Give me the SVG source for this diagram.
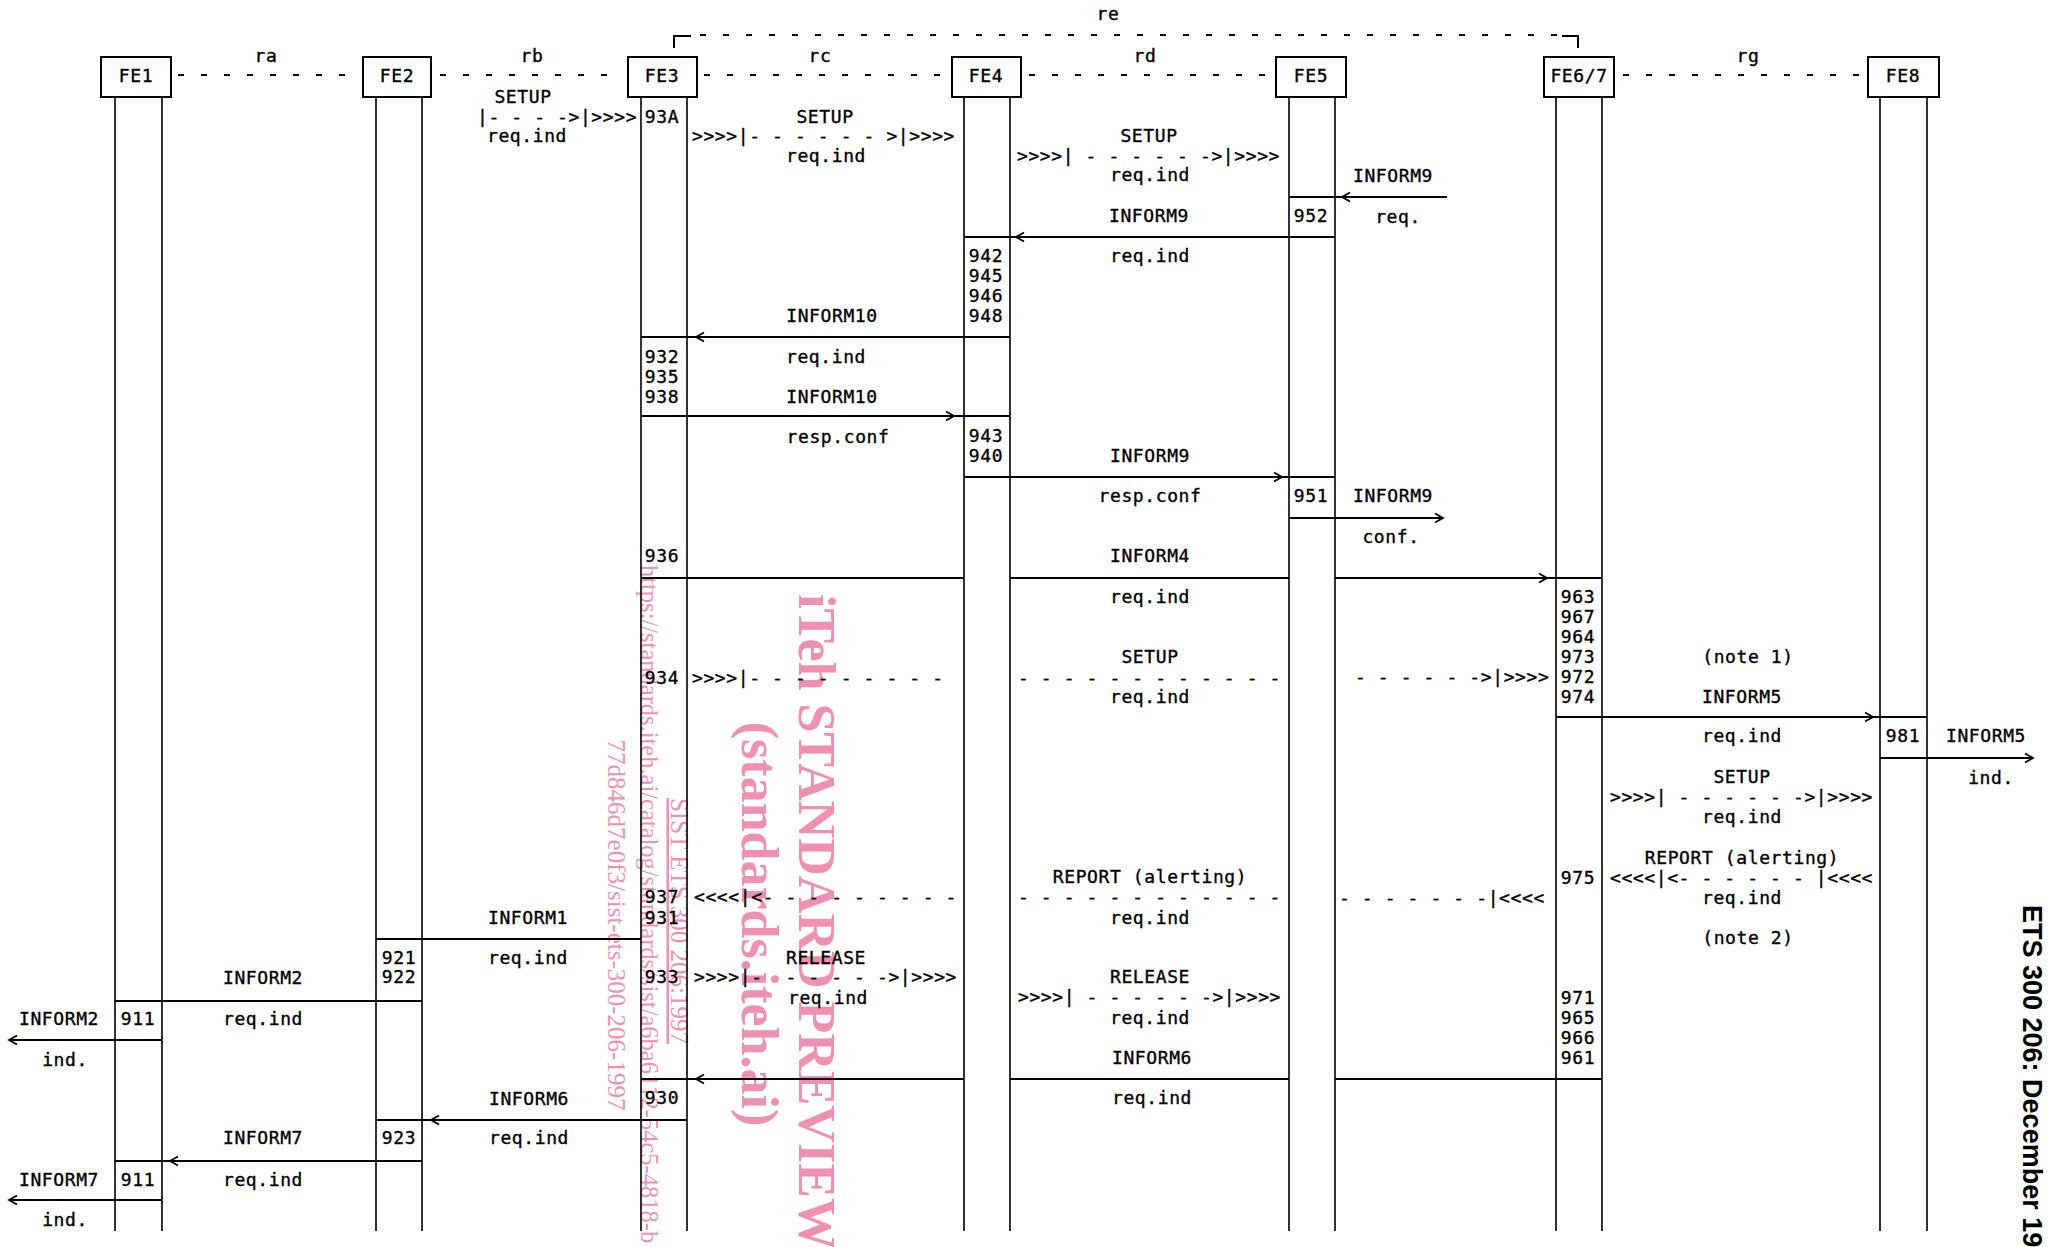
<svg xmlns="http://www.w3.org/2000/svg" width="2049" height="1247" viewBox="0 0 2049 1247">
<style>
.t{font-family:"DejaVu Sans Mono",monospace;font-size:18px;letter-spacing:0.6px;fill:#000;stroke:#000;stroke-width:0.35;text-anchor:middle;white-space:pre}
.s{text-anchor:start}
.box{fill:#fff;stroke:#000;stroke-width:2}
.ll{stroke:#000;stroke-width:1.6;fill:none}
.msg{stroke:#000;stroke-width:2;fill:none}
.dash{stroke:#000;stroke-width:2;fill:none;stroke-dasharray:6 17}
.ah{stroke:#000;stroke-width:1.8;fill:none}
.wm{font-family:"Liberation Serif",serif;fill:#ef8fb1;text-anchor:middle}
.wb{font-weight:bold;font-size:52px}
.ws{font-size:25px}
</style>
<defs>
<path id="al" d="M8,-4.5 L0,0 L8,4.5"/>
<path id="ar" d="M-8,-4.5 L0,0 L-8,4.5"/>
</defs>
<rect width="2049" height="1247" fill="#fff"/>

<!-- watermark -->
<g id="watermark">
<text class="wm wb" transform="translate(799,922) rotate(90)">iTeh STANDARD PREVIEW</text>
<text class="wm wb" transform="translate(742,924) rotate(90)">(standards.iteh.ai)</text>
<text class="wm ws" transform="translate(671,921) rotate(90)" text-decoration="underline">SIST ETS 300 206:1997</text>
<text class="wm" style="text-anchor:start;font-size:24.5px" transform="translate(641,565) rotate(90)">https://standards.iteh.ai/catalog/standards/sist/a6ba6112-54c5-4818-b</text>
<text class="wm ws" transform="translate(608,925) rotate(90)">77d846d7e0f3/sist-ets-300-206-1997</text>
</g>

<!-- nodes -->
<g id="FE1"><rect class="box" x="101" y="57" width="70" height="40"/><path class="ll" d="M115,97 V1231 M162,97 V1231"/><text class="t" x="136" y="82">FE1</text></g>
<g id="FE2"><rect class="box" x="363" y="57" width="68" height="40"/><path class="ll" d="M376,97 V1231 M422,97 V1231"/><text class="t" x="397" y="82">FE2</text></g>
<g id="FE3"><rect class="box" x="628" y="57" width="69" height="40"/><path class="ll" d="M641,97 V1231 M687,97 V1231"/><text class="t" x="662" y="82">FE3</text></g>
<g id="FE4"><rect class="box" x="952" y="57" width="69" height="40"/><path class="ll" d="M964,97 V1231 M1010,97 V1231"/><text class="t" x="986" y="82">FE4</text></g>
<g id="FE5"><rect class="box" x="1276" y="57" width="70" height="40"/><path class="ll" d="M1289,97 V1231 M1335,97 V1231"/><text class="t" x="1311" y="82">FE5</text></g>
<g id="FE67"><rect class="box" x="1544" y="57" width="70" height="40"/><path class="ll" d="M1556,97 V1231 M1602,97 V1231"/><text class="t" x="1579" y="82">FE6/7</text></g>
<g id="FE8"><rect class="box" x="1868" y="57" width="71" height="40"/><path class="ll" d="M1880,97 V1231 M1927,97 V1231"/><text class="t" x="1903" y="82">FE8</text></g>

<!-- interfaces -->
<g id="interfaces">
<path class="dash" d="M178,75 H346 M440,75 H612 M704,75 H946 M1029,75 H1272 M1623,75 H1863 M700,35 H1558"/>
<path class="msg" d="M674,48 V36 H691 M1562,36 H1578 V48" stroke-width="1.6"/>
<text class="t" x="266" y="62">ra</text>
<text class="t" x="532" y="62">rb</text>
<text class="t" x="820" y="62">rc</text>
<text class="t" x="1145" y="62">rd</text>
<text class="t" x="1108" y="20">re</text>
<text class="t" x="1748" y="62">rg</text>
</g>

<!-- connectors -->
<g id="connectors">
<path class="msg" d="M1289,197 H1447 M964,237 H1335 M641,337 H1010 M641,416 H1010 M964,477 H1335 M1289,518 H1443 M641,578 H964 M1010,578 H1289 M1335,578 H1602 M1556,717 H1927 M1880,758 H2033 M376,939 H641 M115,1001 H422 M9,1040 H162 M641,1079 H964 M1010,1079 H1289 M1335,1079 H1602 M376,1120 H687 M115,1161 H422 M9,1200 H162"/>
<g class="ah">
<use href="#al" x="1342" y="197"/>
<use href="#al" x="1016" y="237"/>
<use href="#al" x="696" y="337"/>
<use href="#ar" x="954" y="416"/>
<use href="#ar" x="1282" y="477"/>
<use href="#ar" x="1443" y="518"/>
<use href="#ar" x="1547" y="578"/>
<use href="#ar" x="1873" y="717"/>
<use href="#ar" x="2033" y="758"/>
<use href="#al" x="9" y="1040"/>
<use href="#al" x="696" y="1079"/>
<use href="#al" x="431" y="1120"/>
<use href="#al" x="170" y="1161"/>
<use href="#al" x="9" y="1200"/>
</g>
</g>

<!-- labels -->
<g id="labels" xml:space="preserve">
<text class="t" x="523" y="103">SETUP</text>
<text class="t s" x="477" y="123">|- - - -&gt;|&gt;&gt;&gt;&gt;</text>
<text class="t" x="527" y="142">req.ind</text>
<text class="t" x="528" y="924">INFORM1</text>
<text class="t" x="528" y="964">req.ind</text>
<text class="t" x="529" y="1105">INFORM6</text>
<text class="t" x="529" y="1144">req.ind</text>

<text class="t" x="662" y="123">93A</text>
<text class="t" x="662" y="363">932</text>
<text class="t" x="662" y="383">935</text>
<text class="t" x="662" y="403">938</text>
<text class="t" x="662" y="562">936</text>
<text class="t" x="662" y="684">934</text>
<text class="t" x="662" y="903">937</text>
<text class="t" x="662" y="924">931</text>
<text class="t" x="662" y="983">933</text>
<text class="t" x="662" y="1104">930</text>

<text class="t" x="825" y="123">SETUP</text>
<text class="t s" x="692" y="142">&gt;&gt;&gt;&gt;|- - - - - - &gt;|&gt;&gt;&gt;&gt;</text>
<text class="t" x="826" y="162">req.ind</text>
<text class="t" x="832" y="322">INFORM10</text>
<text class="t" x="826" y="363">req.ind</text>
<text class="t" x="832" y="403">INFORM10</text>
<text class="t" x="838" y="443">resp.conf</text>
<text class="t s" x="692" y="684">&gt;&gt;&gt;&gt;|- - - - - - - - -</text>
<text class="t s" x="694" y="903">&lt;&lt;&lt;&lt;|&lt;- - - - - - - - -</text>
<text class="t" x="826" y="964">RELEASE</text>
<text class="t s" x="694" y="983">&gt;&gt;&gt;&gt;|-  - - - - -&gt;|&gt;&gt;&gt;&gt;</text>
<text class="t" x="828" y="1004">req.ind</text>

<text class="t" x="986" y="262">942</text>
<text class="t" x="986" y="282">945</text>
<text class="t" x="986" y="302">946</text>
<text class="t" x="986" y="322">948</text>
<text class="t" x="986" y="442">943</text>
<text class="t" x="986" y="462">940</text>

<text class="t" x="1149" y="142">SETUP</text>
<text class="t s" x="1017" y="162">&gt;&gt;&gt;&gt;| - - - - - -&gt;|&gt;&gt;&gt;&gt;</text>
<text class="t" x="1150" y="181">req.ind</text>
<text class="t" x="1149" y="222">INFORM9</text>
<text class="t" x="1150" y="262">req.ind</text>
<text class="t" x="1150" y="462">INFORM9</text>
<text class="t" x="1150" y="502">resp.conf</text>
<text class="t" x="1150" y="562">INFORM4</text>
<text class="t" x="1150" y="603">req.ind</text>
<text class="t" x="1150" y="663">SETUP</text>
<text class="t s" x="1018" y="684">- - - - - - - - - - - -</text>
<text class="t" x="1150" y="703">req.ind</text>
<text class="t" x="1150" y="883">REPORT (alerting)</text>
<text class="t s" x="1018" y="903">- - - - - - - - - - - -</text>
<text class="t" x="1150" y="924">req.ind</text>
<text class="t" x="1150" y="983">RELEASE</text>
<text class="t s" x="1018" y="1003">&gt;&gt;&gt;&gt;| - - - - - -&gt;|&gt;&gt;&gt;&gt;</text>
<text class="t" x="1150" y="1024">req.ind</text>
<text class="t" x="1152" y="1064">INFORM6</text>
<text class="t" x="1152" y="1104">req.ind</text>

<text class="t" x="1311" y="222">952</text>
<text class="t" x="1311" y="502">951</text>

<text class="t" x="1393" y="182">INFORM9</text>
<text class="t" x="1398" y="223">req.</text>
<text class="t" x="1393" y="502">INFORM9</text>
<text class="t" x="1391" y="543">conf.</text>
<text class="t s" x="1355" y="683">- - - - - -&gt;|&gt;&gt;&gt;&gt;</text>
<text class="t s" x="1339" y="904">- - - - - - -|&lt;&lt;&lt;&lt;</text>

<text class="t" x="1578" y="603">963</text>
<text class="t" x="1578" y="623">967</text>
<text class="t" x="1578" y="643">964</text>
<text class="t" x="1578" y="663">973</text>
<text class="t" x="1578" y="683">972</text>
<text class="t" x="1578" y="703">974</text>
<text class="t" x="1578" y="884">975</text>
<text class="t" x="1578" y="1004">971</text>
<text class="t" x="1578" y="1024">965</text>
<text class="t" x="1578" y="1044">966</text>
<text class="t" x="1578" y="1064">961</text>

<text class="t" x="1748" y="663">(note 1)</text>
<text class="t" x="1742" y="703">INFORM5</text>
<text class="t" x="1742" y="742">req.ind</text>
<text class="t" x="1742" y="783">SETUP</text>
<text class="t s" x="1610" y="803">&gt;&gt;&gt;&gt;| - - - - - -&gt;|&gt;&gt;&gt;&gt;</text>
<text class="t" x="1742" y="823">req.ind</text>
<text class="t" x="1742" y="864">REPORT (alerting)</text>
<text class="t s" x="1610" y="884">&lt;&lt;&lt;&lt;|&lt;- - - - - - |&lt;&lt;&lt;&lt;</text>
<text class="t" x="1742" y="904">req.ind</text>
<text class="t" x="1748" y="944">(note 2)</text>

<text class="t" x="1903" y="742">981</text>
<text class="t" x="1986" y="742">INFORM5</text>
<text class="t" x="1991" y="784">ind.</text>

<text class="t" x="263" y="984">INFORM2</text>
<text class="t" x="263" y="1025">req.ind</text>
<text class="t" x="263" y="1144">INFORM7</text>
<text class="t" x="263" y="1186">req.ind</text>
<text class="t" x="399" y="964">921</text>
<text class="t" x="399" y="983">922</text>
<text class="t" x="399" y="1144">923</text>
<text class="t" x="138" y="1025">911</text>
<text class="t" x="138" y="1186">911</text>
<text class="t" x="59" y="1025">INFORM2</text>
<text class="t" x="65" y="1066">ind.</text>
<text class="t" x="59" y="1186">INFORM7</text>
<text class="t" x="65" y="1226">ind.</text>
</g>

<text transform="translate(2023,905) rotate(90)" font-family="Liberation Sans, Arial, sans-serif" font-weight="bold" font-size="27" fill="#000">ETS 300 206: December 19</text>
</svg>
